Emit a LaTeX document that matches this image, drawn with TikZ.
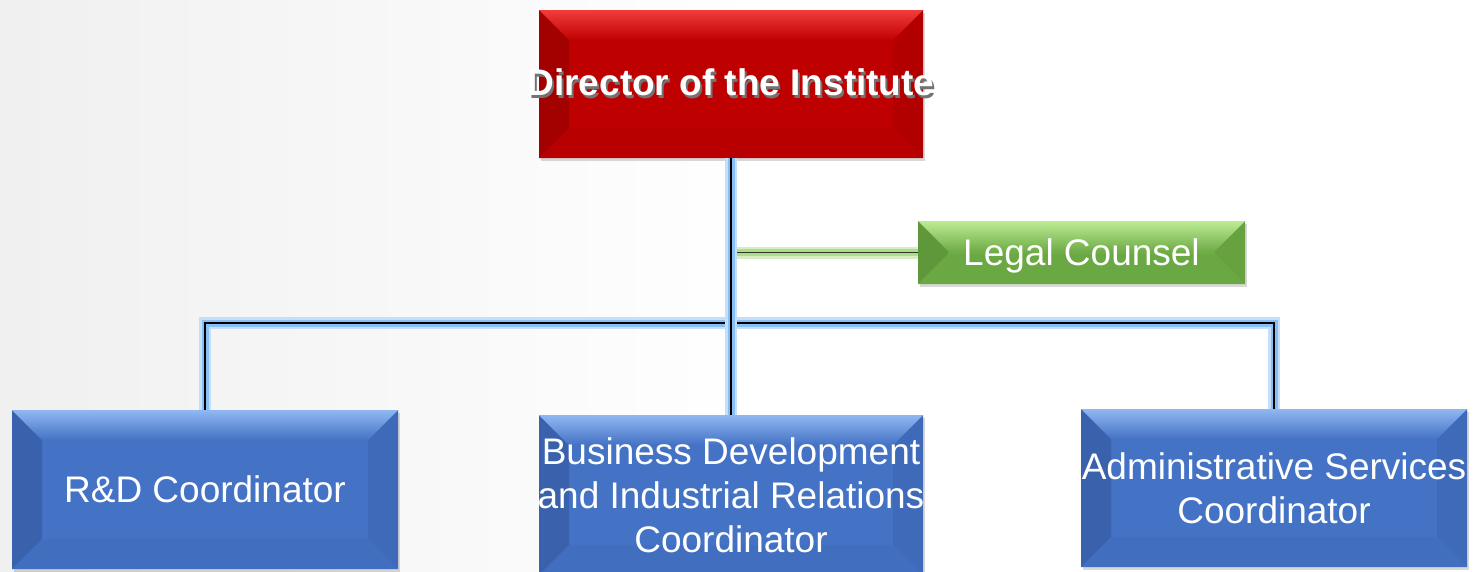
\documentclass[tikz,border=0pt]{standalone}
\usepackage{fontspec}
\newfontfamily\arial{Liberation Sans}
\usetikzlibrary{shadows}
\definecolor{redbase}{HTML}{BF0000}
\definecolor{redtop}{HTML}{F23C3C}
\definecolor{redleft}{HTML}{A30000}
\definecolor{redright}{HTML}{B20000}
\definecolor{redbot}{HTML}{B80000}
\definecolor{bluebase}{HTML}{4472C4}
\definecolor{bluetop}{HTML}{8FB8F2}
\definecolor{blueleft}{HTML}{3A62AC}
\definecolor{blueright}{HTML}{3F6ABA}
\definecolor{bluebot}{HTML}{416EBF}
\definecolor{greenbase}{HTML}{70AD47}
\definecolor{greentop}{HTML}{BDEB94}
\definecolor{greenleft}{HTML}{5E983A}
\definecolor{greenright}{HTML}{66A33F}
\definecolor{greenbot}{HTML}{6AA843}
\definecolor{glowblue}{HTML}{7DB8F5}
\definecolor{glowgreen}{HTML}{A3DA75}
\newcommand\bevpic[5]{%
  \fill[#3] (path picture bounding box.north west) -- ([shift={(30pt,-30pt)}]path picture bounding box.north west) -- ([shift={(30pt,30pt)}]path picture bounding box.south west) -- (path picture bounding box.south west) -- cycle;
  \fill[#4] (path picture bounding box.north east) -- ([shift={(-30pt,-30pt)}]path picture bounding box.north east) -- ([shift={(-30pt,30pt)}]path picture bounding box.south east) -- (path picture bounding box.south east) -- cycle;
  \fill[#5] (path picture bounding box.south west) -- ([shift={(30pt,30pt)}]path picture bounding box.south west) -- ([shift={(-30pt,30pt)}]path picture bounding box.south east) -- (path picture bounding box.south east) -- cycle;
  \shade[top color=#2, bottom color=#1] (path picture bounding box.north west) -- ([shift={(30pt,-30pt)}]path picture bounding box.north west) -- ([shift={(-30pt,-30pt)}]path picture bounding box.north east) -- (path picture bounding box.north east) -- cycle;
}
\tikzset{
  box/.style={rectangle, inner sep=0pt, text=white, align=center,
    font=\arial\fontsize{37}{44}\selectfont,
    drop shadow={shadow xshift=2pt, shadow yshift=-3pt, opacity=0.3}},
  redbox/.style={box, fill=redbase, path picture={\bevpic{redbase}{redtop}{redleft}{redright}{redbot}}},
  bluebox/.style={box, fill=bluebase, path picture={\bevpic{bluebase}{bluetop}{blueleft}{blueright}{bluebot}}},
  greenbox/.style={box, fill=greenbase, path picture={\bevpic{greenbase}{greentop}{greenleft}{greenright}{greenbot}}},
  bluelink/.style={draw=black, line width=1.3pt,
    preaction={draw=glowblue!45, line width=12pt},
    preaction={draw=glowblue!90, line width=7pt}},
  greenlink/.style={draw=black!80, line width=1.3pt,
    preaction={draw=glowgreen!45, line width=12pt},
    preaction={draw=glowgreen!90, line width=7pt}}
}
\begin{document}
\begin{tikzpicture}[x=1pt,y=-1pt]
\useasboundingbox (0,0) rectangle (1473,571);
\fill[white] (0,0) rectangle (1473,571);
\shade[left color=black!6, right color=white] (0,0) rectangle (760,571);
\coordinate (bus) at (731,323);
\node[redbox, minimum width=384pt, minimum height=148pt] (dir) at (731,84) {\bfseries\makebox[0pt]{\rlap{\hspace{2pt}\raisebox{-2.5pt}{\textcolor{black!55}{Director of the Institute}}}Director of the Institute}};
\node[greenbox, minimum width=327pt, minimum height=63pt, text depth=0pt] (legal) at (1081.5,252.5) {Legal Counsel};
\node[bluebox, minimum width=386pt, minimum height=159pt] (rd) at (205,489.5) {R\&D Coordinator};
\node[bluebox, minimum width=384pt, minimum height=160pt] (bd) at (731,495) {Business Development\\\makebox[0pt]{and Industrial Relations}\\Coordinator};
\node[bluebox, minimum width=386pt, minimum height=158pt] (adm) at (1274,488) {Administrative Services\\Coordinator};
\draw[greenlink] (legal.west -| dir.south) -- (legal.west);
\draw[bluelink] (rd.north) |- (bus) -| (adm.north);
\draw[bluelink] (dir.south) -- (bd.north);
\end{tikzpicture}
\end{document}
